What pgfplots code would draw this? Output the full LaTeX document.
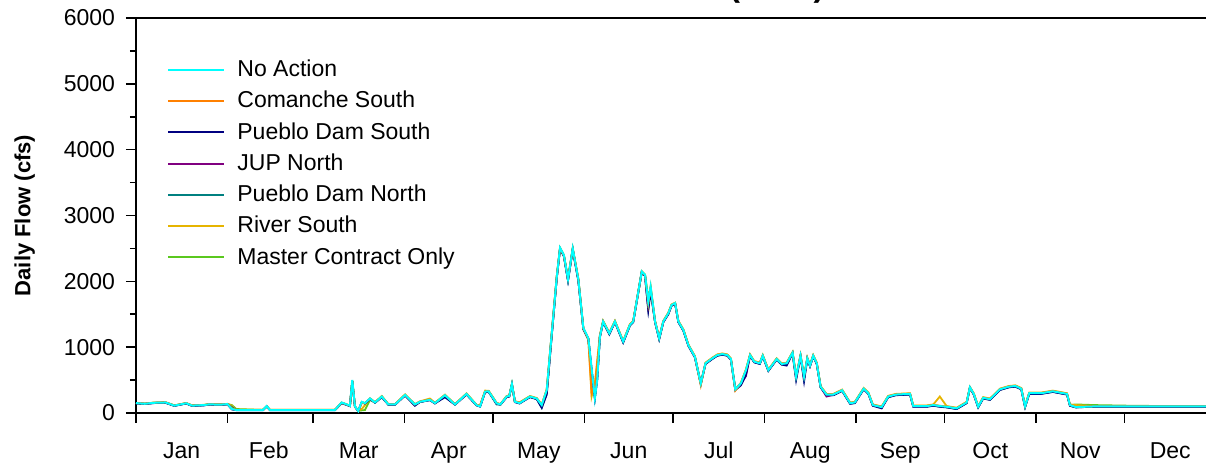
\documentclass[border=0pt]{standalone}
\usepackage{fontspec}
\setmainfont{Liberation Sans}
\usepackage{pgfplots}
\usepackage{pgfplotstable}
\pgfplotsset{compat=1.18}
\definecolor{cNA}{RGB}{0,255,255}
\definecolor{cCS}{RGB}{255,128,0}
\definecolor{cPDS}{RGB}{0,0,128}
\definecolor{cJN}{RGB}{128,0,128}
\definecolor{cPDN}{RGB}{0,128,128}
\definecolor{cRS}{RGB}{230,180,0}
\definecolor{cMCO}{RGB}{90,200,30}

\pgfplotstableread{
d na cs pds jn pdn rs mco
0 150 152 146 148 147 153 150
3 140 142 137 139 138 143 141
6 155 156 150 153 152 158 156
10 160 162 155 158 157 163 161
13 112 115 108 110 110 116 114
15 130 132 126 128 128 134 131
17 148 150 144 146 145 151 149
19 112 115 108 110 110 116 114
23 120 122 116 118 118 124 121
25 132 134 128 130 130 136 133
27 128 130 124 126 126 132 129
29 128 130 124 126 126 132 129
31 135 137 131 133 133 139 136
32.5 60 70 55 58 90 110 120
34 45 47 42 44 45 48 60
43 45 47 42 44 44 48 46
44.3 105 100 98 102 100 103 100
45.4 45 47 42 44 44 48 46
67.4 45 47 42 44 44 48 46
69.7 160 155 150 152 155 158 150
71.4 130 128 122 125 126 132 128
72.5 110 108 104 106 106 112 108
73.3 500 490 480 485 488 492 485
74.2 100 98 95 96 97 102 98
75.3 30 32 28 30 30 35 32
76.5 170 150 160 165 160 60 40
77.6 150 148 145 146 146 120 45
79.3 220 218 212 215 214 222 200
81 160 162 155 158 157 165 160
83.3 250 252 240 245 245 258 250
85.5 130 132 126 128 128 134 131
87.8 130 132 126 128 128 134 131
91.2 275 278 265 270 270 282 276
94.5 130 130 110 125 124 135 118
96.2 170 172 165 168 168 176 170
99.6 200 205 195 198 198 220 202
101.3 150 152 145 148 148 156 151
104.7 270 272 240 260 255 278 270
108.1 130 132 126 128 128 134 131
112 290 292 280 285 285 298 291
115.4 120 122 116 118 118 126 121
116.6 100 120 98 100 100 110 104
118.3 325 328 315 320 320 340 326
119.5 330 332 320 325 325 338 331
122.2 147 150 140 145 130 155 148
123.5 130 132 126 128 128 134 131
125.6 250 252 240 245 245 258 250
126.5 260 262 250 255 255 268 260
127.4 440 430 430 435 432 445 438
128.4 172 175 165 170 168 180 173
130 150 160 145 148 148 160 151
133.5 250 252 240 245 245 258 250
135.8 220 222 210 215 215 228 220
137.5 120 125 80 110 80 130 118
139.2 350 355 280 330 300 360 345
140.9 1210 1220 1180 1200 1190 1220 1210
142.6 2070 2080 2050 2060 2055 2080 2070
143.7 2510 2500 2490 2500 2495 2510 2505
145 2400 2390 2380 2390 2385 2400 2395
146.4 2030 2040 2010 2020 2015 2040 2030
148 2500 2490 2480 2490 2485 2500 2495
149.9 2030 2040 2010 2020 2015 2040 2030
151.6 1290 1280 1270 1280 1275 1290 1285
153.3 1135 1120 1120 1130 1125 1110 1130
154.4 680 300 650 660 650 250 600
155.5 223 400 230 228 230 450 260
156.3 500 750 520 510 520 800 560
157.2 1160 1170 1150 1155 1150 1180 1160
158.3 1390 1395 1380 1385 1382 1400 1390
160.4 1210 1215 1195 1205 1200 1220 1210
162.3 1390 1395 1380 1385 1382 1400 1390
165.1 1085 1090 1070 1080 1075 1095 1085
167.4 1340 1345 1330 1335 1332 1350 1340
168.5 1390 1395 1380 1385 1382 1400 1390
171.4 2150 2145 2140 2145 2140 2150 2150
172.5 2100 2095 2080 2090 2085 2100 2100
173.6 1690 1650 1560 1600 1580 1700 1750
174.4 1920 1900 1850 1880 1870 1920 1900
175.9 1390 1395 1380 1385 1382 1400 1390
177.3 1135 1140 1120 1130 1125 1145 1135
178.7 1390 1395 1380 1385 1382 1400 1390
180.4 1515 1520 1500 1510 1505 1525 1515
181.5 1640 1645 1630 1635 1632 1650 1640
182.7 1670 1665 1660 1665 1662 1675 1670
183.8 1390 1395 1380 1385 1382 1400 1390
185.5 1260 1265 1250 1255 1252 1270 1260
187.2 1030 1035 1020 1025 1022 1040 1030
189.4 855 860 845 850 848 865 855
191.4 450 420 440 445 442 455 450
193 755 760 745 750 748 765 755
195.3 830 835 820 825 822 840 830
197 880 885 870 875 872 890 880
198.7 895 900 885 890 887 905 895
200.4 880 885 870 875 872 890 880
201.6 820 825 810 815 812 830 820
203.1 360 340 350 355 352 365 360
205 450 455 420 440 435 460 450
206.7 650 655 580 560 620 660 650
208.1 880 885 870 875 872 890 880
209.5 780 785 770 775 772 790 780
211.4 755 760 745 750 748 765 755
212.4 870 875 860 865 862 880 870
214.3 650 655 640 645 642 660 650
217.1 820 825 810 815 812 830 820
218.8 745 750 735 740 738 755 745
220.5 755 760 720 750 740 765 755
222.5 915 920 905 910 908 925 915
223.7 550 555 500 540 530 560 550
225.2 870 875 860 865 862 880 870
226.4 550 555 480 530 520 560 550
227.5 830 835 820 825 822 840 830
228.4 720 725 710 715 712 730 720
229.5 870 875 860 865 862 880 870
230.7 755 760 745 750 748 765 755
232 400 405 390 395 392 410 400
234 280 285 270 250 272 290 280
236.3 280 285 270 275 272 290 280
239.3 345 350 335 340 338 355 345
242 150 155 140 145 142 160 150
243.6 160 165 150 155 152 170 160
246.6 370 375 360 365 362 380 370
248.2 300 305 290 295 292 310 300
249.7 120 125 110 115 112 130 120
252.7 90 95 70 85 82 100 90
254.9 250 255 240 245 242 260 250
257.5 280 285 270 275 272 290 280
262.3 290 295 280 285 282 300 290
263.4 105 110 95 100 98 115 105
268 105 110 95 100 98 115 105
270.2 120 125 110 115 112 130 120
272.4 105 110 95 100 98 250 105
274.7 95 100 85 90 88 105 95
278.1 70 75 60 65 62 80 70
281.5 160 165 150 155 152 170 160
282.6 390 380 380 385 382 395 390
283.9 290 295 280 285 282 300 290
285.4 95 100 85 90 88 105 95
287.1 230 235 220 225 222 240 230
289.4 210 215 200 205 202 220 210
292.8 360 365 350 355 352 370 360
295.8 400 405 390 395 392 410 400
298 410 415 400 405 402 420 410
300 370 375 360 365 362 380 370
301.3 100 105 90 95 92 110 100
302.7 300 305 290 295 292 310 300
306.7 300 305 290 295 292 310 300
310.7 330 335 320 325 322 340 330
315.5 290 295 280 285 282 300 290
316.5 120 125 110 115 112 130 120
318.5 90 95 85 88 86 120 130
325 100 102 96 98 97 105 120
340 100 102 96 98 97 104 108
366 100 102 96 98 97 104 106
}\flows

\begin{document}
\begin{tikzpicture}
\begin{axis}[
  name=ax, at={(0,0)}, anchor=south west,
  scale only axis, width=540pt, height=197.5pt,
  xmin=0, xmax=366, ymin=0, ymax=6000,
  axis line style={line width=0.9pt},
  tick style={black, line width=0.8pt},
  tick align=outside, tick pos=left,
  xtick={0,31,60,91,121,152,182,213,244,274,305,335,366},
  xticklabels={,,,,,,,,,,,,},
  major tick length=5pt, minor tick length=3pt,
  extra x ticks={15.5,45,75.5,106,136.5,167,197.5,228.5,259,289.5,320,350.5},
  extra x tick labels={Jan,Feb,Mar,Apr,May,Jun,Jul,Aug,Sep,Oct,Nov,Dec},
  extra x tick style={major tick length=0pt, tick label style={yshift=-11pt, text height=8.3pt, text depth=2.4pt}},
  ytick={0,1000,2000,3000,4000,5000,6000},
  minor y tick num=1,
  /pgf/number format/assume math mode=true,
  /pgf/number format/1000 sep={},
  tick label style={font=\fontsize{11.5}{13.8}\selectfont},
  y tick label style={xshift=-2pt},
  ylabel={\bfseries Daily Flow (cfs)},
  ylabel style={at={(axis description cs:-0.103,0.5)}, anchor=center, font=\fontsize{11}{13}\selectfont},
  title={\bfseries Normal Year (2000)},
  title style={at={(axis description cs:0.5,1)}, anchor=base, yshift=4.5pt, font=\fontsize{16.5}{19}\selectfont},
  legend style={draw=none, fill=none, at={(axis description cs:0.0287,0.9),}, anchor=north west,
    inner sep=0pt, row sep=3.8pt, font=\fontsize{11.5}{13.8}\selectfont,
    nodes={inner sep=1pt}},
  legend cell align=left,
  legend image code/.code={\draw[#1, line width=1pt] (0pt,0pt) -- (28pt,0pt);},
  /tikz/every odd column/.append style={column sep=5pt},
  reverse legend,
]
\addplot[color=cMCO, line width=0.9pt] table[x=d, y=mco] {\flows};
\addlegendentry{Master Contract Only}
\addplot[color=cRS, line width=0.9pt] table[x=d, y=rs] {\flows};
\addlegendentry{River South}
\addplot[color=cPDN, line width=0.9pt] table[x=d, y=pdn] {\flows};
\addlegendentry{Pueblo Dam North}
\addplot[color=cJN, line width=0.9pt] table[x=d, y=jn] {\flows};
\addlegendentry{JUP North}
\addplot[color=cPDS, line width=0.9pt] table[x=d, y=pds] {\flows};
\addlegendentry{Pueblo Dam South}
\addplot[color=cCS, line width=0.9pt] table[x=d, y=cs] {\flows};
\addlegendentry{Comanche South}
\addplot[color=cNA, line width=1pt] table[x=d, y=na] {\flows};
\addlegendentry{No Action}
\end{axis}
\pgfresetboundingbox
\path[use as bounding box] (-68pt,-25.5pt) rectangle (535pt,206.5pt);
\end{tikzpicture}
\end{document}
